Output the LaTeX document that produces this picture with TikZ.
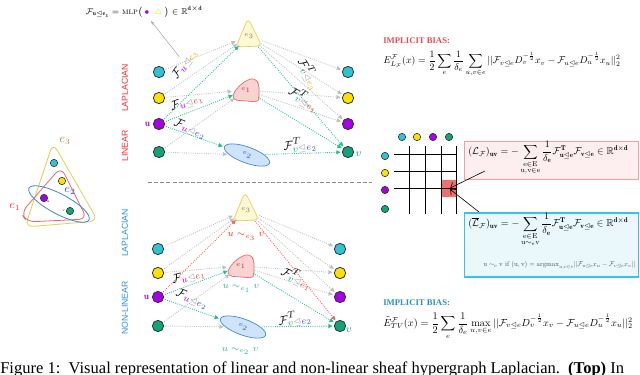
\documentclass[tikz,border=0pt]{standalone}
\usepackage{amsmath, amssymb}
\usepackage{fontspec}
\newfontfamily\capfont{Liberation Serif}
\newfontfamily\labfont{Liberation Sans}
\usepackage{tikz}
\usetikzlibrary{
    shapes.geometric,
    arrows.meta,
    positioning,
    calc
}
\definecolor{ncyan}{HTML}{2EC4D6}
\definecolor{nyellow}{HTML}{FFE000}
\definecolor{npurple}{HTML}{A600E8}
\definecolor{ngreen}{HTML}{12A37A}
\definecolor{tealarr}{HTML}{20BF8C}
\definecolor{redarr}{HTML}{FF5C5C}
\definecolor{linred}{HTML}{FF2A2A}
\definecolor{nlblue}{HTML}{2A90E8}
\definecolor{e3fill}{HTML}{FFF8D4}
\definecolor{e3line}{HTML}{E6CC55}
\definecolor{e3txt}{HTML}{EFAE00}
\definecolor{e1fill}{HTML}{F9D3D1}
\definecolor{e1line}{HTML}{E06A6A}
\definecolor{e1txt}{HTML}{F03C3C}
\definecolor{e2fill}{HTML}{CFE3FB}
\definecolor{e2line}{HTML}{3D86D6}
\definecolor{e2txt}{HTML}{3050E0}
\definecolor{biasred}{HTML}{F04850}
\definecolor{biasblue}{HTML}{2090C8}
\definecolor{pinkfill}{HTML}{FDEFEF}
\definecolor{pinkline}{HTML}{F4A0A0}
\definecolor{bluefill}{HTML}{EAF8FC}
\definecolor{blueline}{HTML}{33C3EE}
\definecolor{cellred}{HTML}{F07070}

\begin{document}
\begin{tikzpicture}[
            x=0.75pt, y=-0.75pt,
            vtx/.style={circle, draw=black!80, line width=0.6pt, minimum size=8.5pt, inner sep=0pt},
            mvtx/.style={vtx, minimum size=5.5pt, line width=0.45pt},
            hedge/.style={circle, inner sep=0pt, minimum size=19pt, font=\fontsize{4}{4}\selectfont},
            garr/.style={-{Triangle[length=3.2pt, width=3pt]}, densely dotted, line width=0.65pt, draw=black!25, shorten >=1pt, shorten <=1pt},
            tarr/.style={garr, draw=tealarr},
            rarr/.style={garr, draw=redarr},
            flab/.style={inner sep=0pt, font=\fontsize{9.5}{10}\selectfont},
            side/.style={rotate=90, inner sep=0pt, font=\labfont\fontsize{6.5}{7}\selectfont},
            bias/.style={anchor=west, inner sep=0pt, font=\capfont\bfseries\fontsize{6.5}{7}\selectfont},
            eq/.style={anchor=west, inner sep=0pt},
            etri/.pic={\draw[e3line, fill=e3fill, line width=0.5pt, rounded corners=4pt]
                (-1,-18) -- (13,10) -- (-13,11) -- cycle;},
            eblob/.pic={\draw[e1line, fill=e1fill, line width=0.5pt, rounded corners=3pt]
                (9,-12) .. controls (-4,-9) and (-13,2) .. (-13,10) -- (13,12) -- (13,-6) -- cycle;},
            eell/.style={ellipse, draw=e2line, fill=e2fill, line width=0.5pt, inner sep=0pt,
                minimum width=36pt, minimum height=12pt, rotate=-20, font=\fontsize{4}{4}\selectfont},
        ]
            \useasboundingbox (0,0) rectangle (640,375);

            % ====== Hypergraph sketch ======
            \draw[e3line, line width=0.6pt, rounded corners=6pt] (53,143) -- (98,221) -- (25,227) -- cycle;
            \draw[e1line, line width=0.6pt, rounded corners=6pt] (61,167) -- (87,219) -- (27,222) -- (21,213) -- cycle;
            \node[ellipse, draw=e2line, line width=0.6pt, minimum width=51pt, minimum height=15pt, rotate=-28] (he2) at (59,204) {};
            \node[mvtx, fill=ncyan] (hc) at (54,163) {};
            \node[mvtx, fill=nyellow] (hy) at (62,181) {};
            \node[mvtx, fill=npurple] (hu) at (44,198) {};
            \node[mvtx, fill=ngreen] (hv) at (70,211) {};
            \node[font=\fontsize{2.5}{3}\selectfont, inner sep=0pt, below right=0pt of hu] (hul) {u};
            \node[font=\fontsize{2.5}{3}\selectfont, inner sep=0pt, left=0.5pt of hv] (hvl) {v};
            \node[text=e3line!70!black, font=\small, inner sep=0pt] (he3l) at (65,141) {$e_3$};
            \node[text=e2txt, font=\small, inner sep=0pt] (he2l) at (70,191) {$e_2$};
            \node[text=e1txt, font=\small, inner sep=0pt] (he1l) at (15,207) {$e_1$};

            % ====== Side labels ======
            \node[side, text=linred] (lap1) at (125,88) {LAPLACIAN};
            \node[side, text=linred] (lin1) at (125,146) {LINEAR};
            \node[side, text=nlblue] (lap2) at (125,233) {LAPLACIAN};
            \node[side, text=nlblue] (lin2) at (125,308) {NON-LINEAR};

            % ====== Linear Laplacian ======
            \pic at (249,36) {etri};
            \pic at (246,90) {eblob};
            \node[hedge, text=e3line!60!black] (te3) at (249,36) {$e_3$};
            \node[hedge, text=e1txt!80!black] (te1) at (246,90) {$e_1$};
            \node[eell, text=e2txt] (te2) at (247,155) {$e_2$};

            \node[vtx, fill=ncyan] (lc) at (159,72) {};
            \node[vtx, fill=nyellow] (ly) at (159,98) {};
            \node[vtx, fill=npurple] (lu) at (159,124) {};
            \node[vtx, fill=ngreen] (lg) at (159,152) {};
            \node[vtx, fill=ncyan] (rc) at (348,72) {};
            \node[vtx, fill=nyellow] (ry) at (348,98) {};
            \node[vtx, fill=npurple] (rp) at (348,124) {};
            \node[vtx, fill=ngreen] (rv) at (348,152) {};
            \node[text=npurple, font=\scriptsize, left=2pt of lu, inner sep=0pt] (lul) {$\mathbf{u}$};
            \node[text=ngreen, font=\footnotesize, right=1pt of rv, inner sep=0pt, yshift=-2pt] (rvl) {$v$};

            \draw[garr] (lc) -- (te3);
            \draw[garr] (ly) -- (te3);
            \draw[garr] (ly) -- (te1);
            \draw[garr] (lg) -- (te1);
            \draw[garr] (lg) -- (te2);
            \draw[tarr] (lu) -- (te3);
            \draw[tarr] (lu) -- (te1);
            \draw[tarr] (lu) -- (te2);
            \draw[garr] (te3) -- (rc);
            \draw[garr] (te3) -- (ry);
            \draw[garr] (te3) -- (rp);
            \draw[garr] (te1) -- (ry);
            \draw[garr] (te1) -- (rp);
            \draw[tarr] (te3) -- (rv);
            \draw[tarr] (te1) -- (rv);
            \draw[tarr] (te2) -- (rv);

            \node[flab, rotate=55] (f3) at (185,64) {$\mathcal{F}_{\color{npurple}u\color{black!40}\trianglelefteq\color{e3txt}e_3}$};
            \node[flab, rotate=20] (f1) at (187,103) {$\mathcal{F}_{\color{npurple}u\color{black!40}\trianglelefteq\color{e1txt}e_1}$};
            \node[flab, rotate=-20] (f2) at (190,129) {$\mathcal{F}_{\color{npurple}u\color{black!40}\trianglelefteq\color{e2txt}e_2}$};
            \node[flab, rotate=-60] (g3) at (309,74) {$\mathcal{F}^{T}_{\color{ngreen}v\color{black!40}\trianglelefteq\color{e3txt}e_3}$};
            \node[flab, rotate=-30] (g1) at (304,99) {$\mathcal{F}^{T}_{\color{ngreen}v\color{black!40}\trianglelefteq\color{e1txt}e_1}$};
            \node[flab, rotate=8] (g2) at (300,145) {$\mathcal{F}^{T}_{\color{ngreen}v\color{black!40}\trianglelefteq\color{e2txt}e_2}$};

            % ====== MLP note ======
            \node[inner sep=0pt, font=\fontsize{6.5}{7}\selectfont] (mlp) at (144,12)
                {$\mathcal{F}_{\mathbf{u}\trianglelefteq\mathbf{e_3}} = \textsc{mlp}\big(\,{\color{npurple}\bullet}\;\,{\color{nyellow}\triangle}\,\big)\in\mathbb{R}^{\mathbf{d}\times\mathbf{d}}$};
            \coordinate (mlptip) at (151,21);
            \draw[-{Stealth[length=3pt]}, black!35, line width=0.4pt, shorten <=2pt] (f3) -- (mlptip);

            % ====== Separator ======
            \coordinate (sepl) at (148,182);
            \coordinate (sepr) at (372,182);
            \draw[black!45, line width=0.6pt, dash pattern=on 3pt off 1.6pt] (sepl) -- (sepr);

            % ====== Non-linear Laplacian ======
            \pic at (246,210) {etri};
            \pic at (241,266) {eblob};
            \node[hedge, text=e3line!60!black] (be3) at (246,210) {$e_3$};
            \node[hedge, text=e1txt!80!black] (be1) at (241,266) {$e_1$};
            \node[eell, text=e2txt] (be2) at (243,327) {$e_2$};

            \node[vtx, fill=ncyan] (blc) at (158,249) {};
            \node[vtx, fill=nyellow] (bly) at (158,273) {};
            \node[vtx, fill=npurple] (blu) at (158,297) {};
            \node[vtx, fill=ngreen] (blg) at (158,326) {};
            \node[vtx, fill=ncyan] (brc) at (340,249) {};
            \node[vtx, fill=nyellow] (bry) at (340,273) {};
            \node[vtx, fill=npurple] (brp) at (340,297) {};
            \node[vtx, fill=ngreen] (brv) at (340,326) {};
            \node[text=npurple, font=\scriptsize, left=2pt of blu, inner sep=0pt] (blul) {$\mathbf{u}$};
            \node[text=ngreen, font=\footnotesize, below right=-2pt and 1pt of brv, inner sep=0pt] (brvl) {$v$};

            \draw[garr] (blc) -- (be3);
            \draw[garr] (bly) -- (be3);
            \draw[garr] (bly) -- (be1);
            \draw[garr] (blg) -- (be1);
            \draw[garr] (blg) -- (be2);
            \draw[rarr] (blu) -- (be3);
            \draw[tarr] (blu) -- (be1);
            \draw[tarr] (blu) -- (be2);
            \draw[garr] (be3) -- (brc);
            \draw[garr] (be3) -- (bry);
            \draw[garr] (be3) -- (brp);
            \draw[garr] (be1) -- (bry);
            \draw[garr] (be1) -- (brp);
            \draw[rarr] (be3) -- (brv);
            \draw[tarr] (be1) -- (brv);
            \draw[tarr] (be2) -- (brv);

            \node[flab, rotate=15] (bf1) at (189,277) {$\mathcal{F}_{\color{npurple}u\color{black!40}\trianglelefteq\color{e1txt}e_1}$};
            \node[flab, rotate=-20] (bf2) at (192,299) {$\mathcal{F}_{\color{npurple}u\color{black!40}\trianglelefteq\color{e2txt}e_2}$};
            \node[flab, rotate=-25] (bg1) at (297,278) {$\mathcal{F}^{T}_{\color{ngreen}v\color{black!40}\trianglelefteq\color{e1txt}e_1}$};
            \node[flab, rotate=10] (bg2) at (295,319) {$\mathcal{F}^{T}_{\color{ngreen}v\color{black!40}\trianglelefteq\color{e2txt}e_2}$};

            \node[text=linred, font=\fontsize{7}{8}\selectfont, below=4pt of be3] (sim3) {$u\sim_{e_3}v$};
            \node[text=tealarr, font=\fontsize{7}{8}\selectfont, below=1pt of be1] (sim1) {$u\sim_{e_1}v$};
            \node[text=tealarr, font=\fontsize{7}{8}\selectfont, below=6pt of be2] (sim2) {$u\sim_{e_2}v$};

            % ====== Implicit bias ======
            \node[bias, text=biasred] (bias1) at (383,41) {IMPLICIT BIAS:};
            \node[eq] (en1) at (383,64) {\resizebox{178pt}{!}{$\displaystyle E^{\mathcal{F}}_{L_{\mathcal{F}}}(x) = \frac{1}{2}\sum_{e}\frac{1}{\delta_e}\sum_{u,v\in e}||\mathcal{F}_{v\trianglelefteq e}D_v^{-\frac{1}{2}}x_v - \mathcal{F}_{u\trianglelefteq e}D_u^{-\frac{1}{2}}x_u||_2^2$}};
            \node[bias, text=biasblue] (bias2) at (383,303) {IMPLICIT BIAS:};
            \node[eq] (en2) at (383,326) {\resizebox{187pt}{!}{$\displaystyle \tilde{E}^{\mathcal{F}}_{TV}(x) = \frac{1}{2}\sum_{e}\frac{1}{\delta_e}\max_{u,v\in e}||\mathcal{F}_{v\trianglelefteq e}D_v^{-\frac{1}{2}}x_v - \mathcal{F}_{u\trianglelefteq e}D_u^{-\frac{1}{2}}x_u||_2^2$}};

            % ====== Laplacian matrix ======
            \node[fill=cellred, inner sep=0pt, minimum width=11.8pt, minimum height=12.75pt] (cell) at (449.1,188.5) {};
            \draw[line width=0.7pt] (394,146) grid[xstep=15.75, ystep=17] (457,214);
            \foreach \yy in {154.5,171.5,188.5}
                \draw[line width=0.4pt] (394,\yy) -- (457,\yy);
            \node[mvtx, fill=ncyan] (mc1) at (402,137) {};
            \node[mvtx, fill=nyellow] (mc2) at (417,137) {};
            \node[mvtx, fill=npurple] (mc3) at (433,137) {};
            \node[mvtx, fill=ngreen] (mc4) at (449,137) {};
            \node[mvtx, fill=ncyan] (mr1) at (385,156) {};
            \node[mvtx, fill=nyellow] (mr2) at (385,173) {};
            \node[mvtx, fill=npurple] (mr3) at (385,190) {};
            \node[mvtx, fill=ngreen] (mr4) at (385,209) {};

            % ====== Laplacian entries ======
            \node[draw=pinkline, fill=pinkfill, line width=0.7pt, inner sep=0pt,
                minimum width=131pt, minimum height=28.5pt] (lapbox) at (551.5,160) {};
            \node[eq] (lapeq) at (468,158) {\resizebox{120pt}{!}{$\displaystyle (\mathcal{L}_{\mathcal{F}})_{\mathbf{uv}} = -\sum_{\substack{\mathrm{e}\in\mathrm{E}\\ \mathrm{u,v}\in\mathrm{e}}}\frac{1}{\delta_{\mathbf{e}}}\mathcal{F}^{\mathbf{T}}_{\mathbf{u}\trianglelefteq\mathbf{e}}\mathcal{F}_{\mathbf{v}\trianglelefteq\mathbf{e}}\in\mathbb{R}^{\mathbf{d}\times\mathbf{d}}$}};
            \node[draw=blueline, fill=bluefill, line width=0.9pt, inner sep=0pt,
                minimum width=131pt, minimum height=48pt] (nlbox) at (551.5,245) {};
            \node[eq] (nleq) at (468,230) {\resizebox{120pt}{!}{$\displaystyle (\overline{\mathcal{L}}_{\mathcal{F}})_{\mathbf{uv}} = -\sum_{\substack{\mathrm{e}\in\mathrm{E}\\ \mathrm{u}\sim_{\mathrm{e}}\mathrm{v}}}\frac{1}{\delta_{\mathbf{e}}}\mathcal{F}^{\mathbf{T}}_{\mathbf{u}\trianglelefteq\mathbf{e}}\mathcal{F}_{\mathbf{v}\trianglelefteq\mathbf{e}}\in\mathbb{R}^{\mathbf{d}\times\mathbf{d}}$}};
            \node[eq, text=black!70] (nlcond) at (483,265) {\resizebox{114pt}{!}{$\mathrm{u}\sim_{\mathrm{e}}\mathrm{v}\ \mathrm{if}\ (\mathrm{u},\mathrm{v}) = \mathrm{argmax}_{u,v\in e}||\mathcal{F}_{u\trianglelefteq e}x_u - \mathcal{F}_{v\trianglelefteq e}x_v||$}};

            \coordinate (lapfoot) at (485,171);
            \coordinate (nlhead) at (479,212);
            \draw[-{Straight Barb[length=3pt]}, line width=0.45pt, shorten >=1pt] (lapfoot) -- (cell.center);
            \draw[-{Straight Barb[length=3pt]}, line width=0.45pt, shorten >=1pt] (nlhead) -- (cell.center);

            % ====== Caption ======
            \node[anchor=base west, inner sep=0pt, font=\capfont\fontsize{12.4}{13}\selectfont] (cap) at (0,373)
                {Figure 1:\ \ Visual representation of linear and non-linear sheaf hypergraph Laplacian.\ \ \textbf{(Top)} In};
        \end{tikzpicture}
\end{document}
